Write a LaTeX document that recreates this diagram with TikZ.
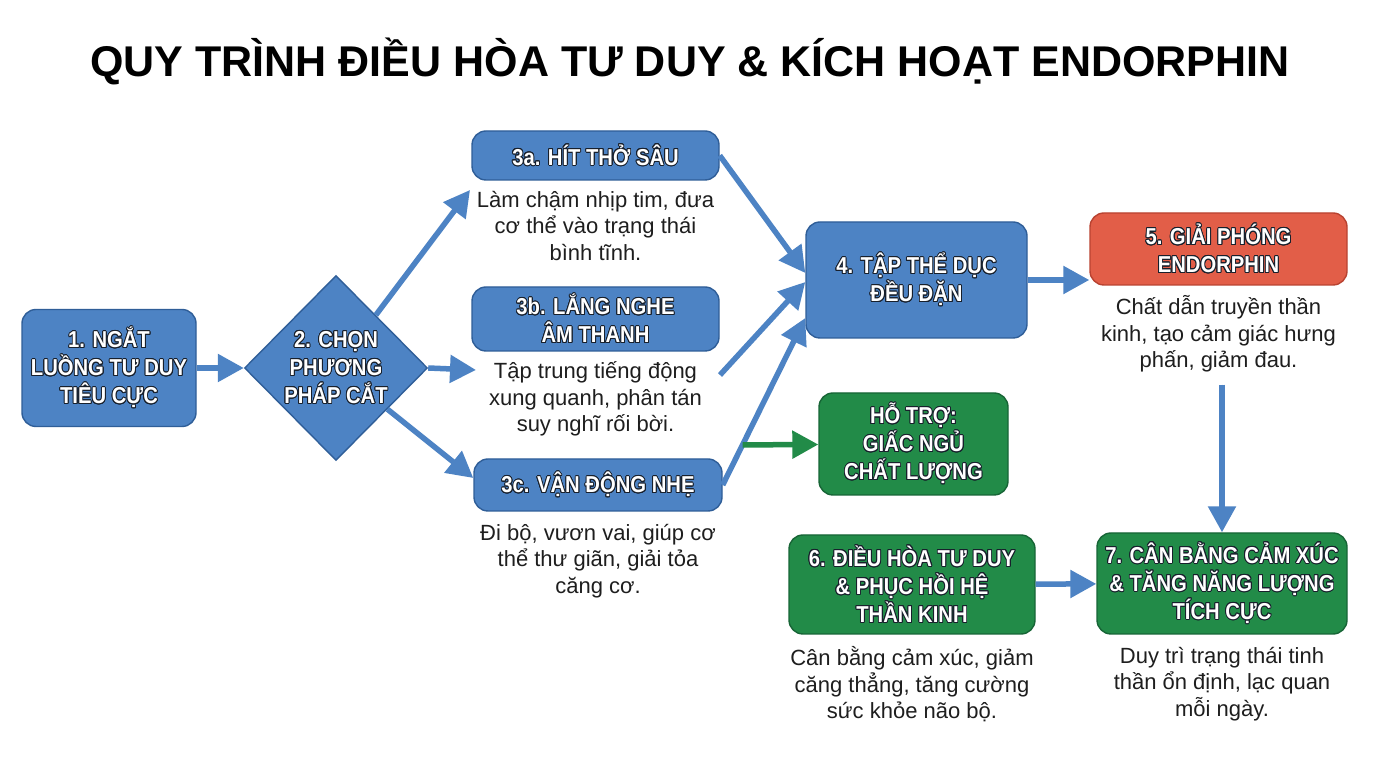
\documentclass[tikz,border=0pt]{standalone}
\usepackage{fontspec}
\setmainfont{Liberation Sans}
\usepackage{graphicx}
\usepackage{contour}
\contourlength{1pt}
\usetikzlibrary{positioning, shapes.geometric, arrows.meta}

\definecolor{boxblue}{HTML}{4D83C4}
\definecolor{edgeblue}{HTML}{2F5E98}
\definecolor{boxgreen}{HTML}{228B48}
\definecolor{edgegreen}{HTML}{176536}
\definecolor{boxred}{HTML}{E25E48}
\definecolor{edgered}{HTML}{B94331}
\definecolor{txtdark}{HTML}{1E1E1E}
\definecolor{outlc}{HTML}{18202C}

% white box text with a dark rim, a little condensed
\newcommand{\outl}[1]{\scalebox{0.88}[1]{\contour{outlc}{#1}}}

\begin{document}
\begin{tikzpicture}[
        x=1pt, y=1pt,
        node distance=10pt,
        title/.style={anchor=base, text=black, font=\bfseries\fontsize{43}{50}\selectfont},
        box/.style={rectangle, draw=edgeblue, fill=boxblue, line width=1.4pt, rounded corners=14pt, align=center, text=white, inner sep=0pt, font=\bfseries\fontsize{23}{28}\selectfont},
        greenbox/.style={box, draw=edgegreen, fill=boxgreen},
        redbox/.style={box, draw=edgered, fill=boxred},
        choice/.style={diamond, draw=edgeblue, fill=boxblue, line width=1.4pt, align=center, text=white, inner sep=-6pt, minimum width=183pt, minimum height=185pt, font=\bfseries\fontsize{23}{28}\selectfont},
        desc/.style={align=center, text=txtdark, inner sep=0pt, font=\fontsize{22}{26.5}\selectfont},
        arrow/.style={-{Triangle[width=27pt,length=26pt]}, line width=5.5pt, draw=boxblue, fill=boxblue},
        garrow/.style={arrow, draw=boxgreen, fill=boxgreen}
        ]
        \useasboundingbox (0,0) rectangle (1376,768);
        \fill[white] (0,0) rectangle (1376,768);

        \node[title] (title) at (690,691) {QUY TRÌNH ĐIỀU HÒA TƯ DUY \& KÍCH HOẠT ENDORPHIN};

        \node[box, minimum width=174pt, minimum height=117pt] (ngat) at (109,400) {\outl{1. NGẮT}\\\outl{LUỒNG TƯ DUY}\\\outl{TIÊU CỰC}};
        \node[choice] (chon) at (336,400) {\outl{2. CHỌN}\\\outl{PHƯƠNG}\\\outl{PHÁP CẮT}};

        \node[box, minimum width=247pt, minimum height=49pt] (hit) at (595.5,612.5) {\outl{3a. HÍT THỞ SÂU}};
        \node[desc, below=of hit] (hitd) {Làm chậm nhịp tim, đưa\\cơ thể vào trạng thái\\bình tĩnh.};
        \node[box, minimum width=247pt, minimum height=64pt] (nghe) at (595.5,449) {\outl{3b. LẮNG NGHE}\\\outl{ÂM THANH}};
        \node[desc, below=of nghe] (nghed) {Tập trung tiếng động\\xung quanh, phân tán\\suy nghĩ rối bời.};
        \node[box, minimum width=248pt, minimum height=52pt] (vandong) at (598,283) {\outl{3c. VẬN ĐỘNG NHẸ}};
        \node[desc, below=12pt of vandong] (vandongd) {Đi bộ, vươn vai, giúp cơ\\thể thư giãn, giải tỏa\\căng cơ.};

        \node[box, minimum width=221pt, minimum height=116pt] (theduc) at (916.5,488) {\outl{4. TẬP THỂ DỤC}\\\outl{ĐỀU ĐẶN}};
        \node[greenbox, minimum width=189pt, minimum height=102pt] (giacngu) at (913.5,324) {\outl{HỖ TRỢ:}\\\outl{GIẤC NGỦ}\\\outl{CHẤT LƯỢNG}};

        \node[redbox, minimum width=257pt, minimum height=72pt] (endor) at (1218.5,519) {\outl{5. GIẢI PHÓNG}\\\outl{ENDORPHIN}};
        \node[desc, below=of endor] (endord) {Chất dẫn truyền thần\\kinh, tạo cảm giác hưng\\phấn, giảm đau.};

        \node[greenbox, minimum width=246pt, minimum height=99pt] (dieuhoa) at (912,183.5) {\outl{6. ĐIỀU HÒA TƯ DUY}\\\outl{\& PHỤC HỒI HỆ}\\\outl{THẦN KINH}};
        \node[desc, below=12pt of dieuhoa] (dieuhoad) {Cân bằng cảm xúc, giảm\\căng thẳng, tăng cường\\sức khỏe não bộ.};
        \node[greenbox, minimum width=250pt, minimum height=101pt] (canbang) at (1222,184.5) {\outl{7. CÂN BẰNG CẢM XÚC}\\\outl{\& TĂNG NĂNG LƯỢNG}\\\outl{TÍCH CỰC}};
        \node[desc, below=12pt of canbang] (canbangd) {Duy trì trạng thái tinh\\thần ổn định, lạc quan\\mỗi ngày.};

        % free ends of the branch arrows
        \coordinate (hitend) at (470,578);
        \coordinate (ngheend) at (476,398);
        \coordinate (nghestart) at (720,393);
        \coordinate (endorstart) at ([yshift=-12pt]endord.south);

        \draw[arrow] (ngat) -- (chon);
        \draw[arrow] (chon) -- (hitend);
        \draw[arrow] (chon.east) -- (ngheend);
        \draw[arrow] (chon) -- ([yshift=7pt]vandong.west);
        \draw[arrow] (hit.east) -- ([yshift=7pt]theduc.west);
        \draw[arrow] (nghestart) -- ([yshift=-2pt]theduc.west);
        \draw[arrow] (vandong.east) -- coordinate[pos=0.24] (ngustart) ([yshift=-38pt]theduc.west);
        \draw[garrow] (ngustart) -- (giacngu);
        \draw[arrow] (theduc.east) -- (theduc.east -| endor.west);
        \draw[arrow] (endorstart -| canbang.north) -- (canbang.north);
        \draw[arrow] (dieuhoa) -- (canbang);
    \end{tikzpicture}
\end{document}
